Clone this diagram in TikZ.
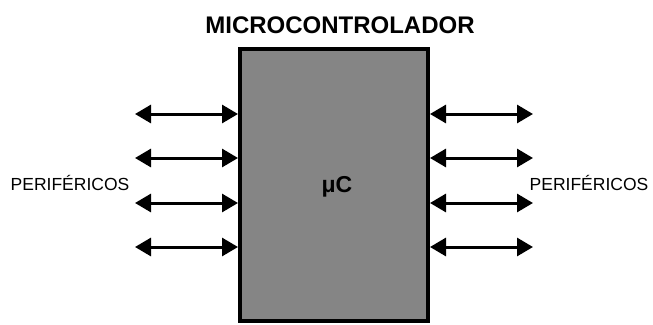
\documentclass[tikz,border=0pt]{standalone}
\usepackage{fontspec}
\setmainfont{Liberation Sans}
\usetikzlibrary{arrows.meta}
\begin{document}
\begin{tikzpicture}[x=1pt,y=-1pt,
  mcbox/.style={draw=black,line width=4pt,fill=black!48,minimum width=188pt,minimum height=272pt,inner sep=0pt},
  bi/.style={line width=3pt,{Triangle[length=16pt,width=18pt]}-{Triangle[length=16pt,width=18pt]}},
  lbl/.style={inner sep=0pt,font=\fontsize{17.5}{20}\selectfont},
  ttl/.style={inner sep=0pt,font=\fontsize{24}{26}\selectfont\bfseries}]
\useasboundingbox (0,0) rectangle (653,324);
\node[mcbox] (mc) at (334,185) {};
\node[inner sep=0pt,font=\fontsize{23}{26}\selectfont\bfseries] (uc) at (337,187) {μC};
\node[ttl] (title) at (340,25) {MICROCONTROLADOR};
\node[lbl] (pl) at (70,183) {PERIFÉRICOS};
\node[lbl] (pr) at (589,183) {PERIFÉRICOS};
\foreach \i/\y in {1/114,2/158,3/203,4/247}{
  \coordinate (l\i) at (135,\y);
  \coordinate (r\i) at (533,\y);
  \draw[bi] (l\i) -- (l\i -| mc.west);
  \draw[bi] (r\i -| mc.east) -- (r\i);
}
\end{tikzpicture}
\end{document}
